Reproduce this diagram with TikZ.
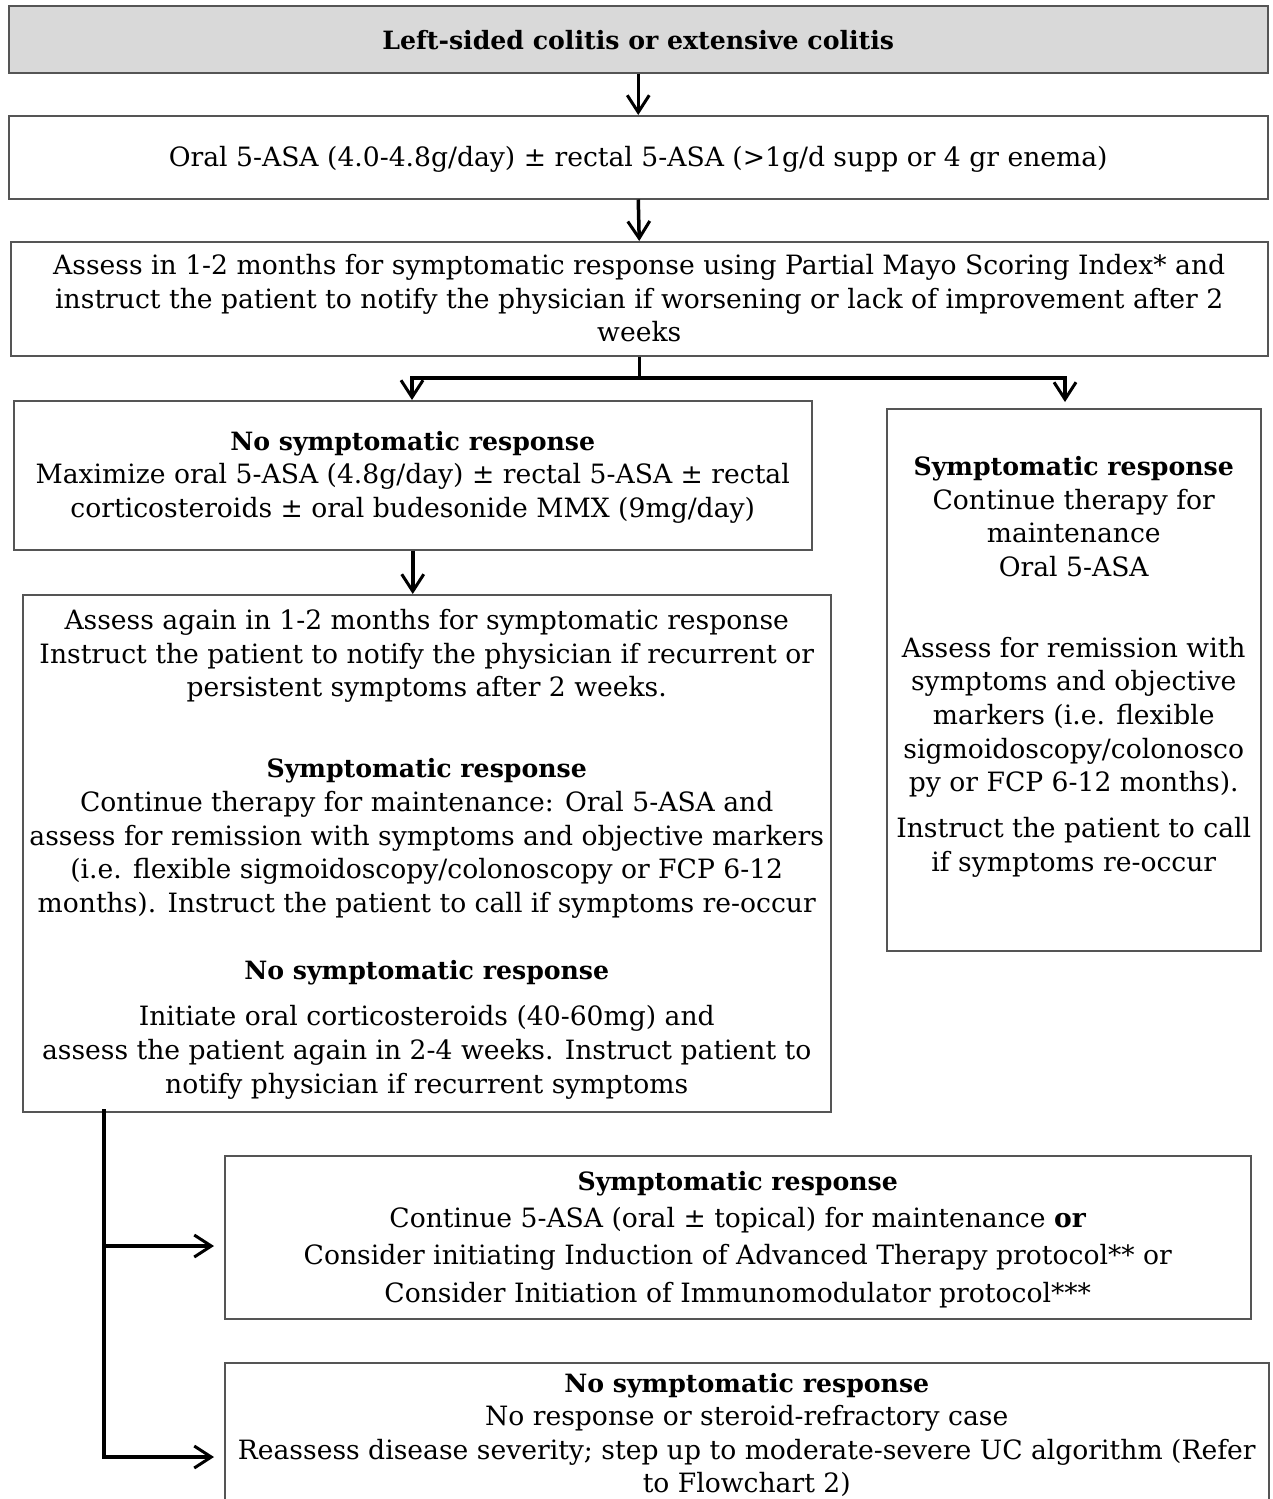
\documentclass[tikz,border=0pt]{standalone}
\usepackage{fontspec}
\setmainfont{DejaVu Serif}
\usetikzlibrary{arrows.meta}
\definecolor{boxgray}{HTML}{555555}
\definecolor{headfill}{HTML}{D9D9D9}
\newcommand{\hdg}[1]{{\fontsize{25.2}{33.7}\selectfont\bfseries #1}}
\begin{document}
\begin{tikzpicture}[x=1pt,y=-1pt,
  box/.style={draw=boxgray, line width=1.5pt, inner sep=0pt, anchor=north west},
  txt/.style={align=center, inner sep=0pt, font=\fontsize{26.6}{33.7}\selectfont},
  conn/.style={line width=3.5pt, black},
  arr/.style={line width=3.5pt, black, -{Straight Barb[length=17pt,width=22pt,line width=3pt]}}]
\useasboundingbox (0,0) rectangle (1272,1499);
\clip (0,0) rectangle (1272,1499);
\fill[white] (0,0) rectangle (1272,1499);

% boxes
\node[box, fill=headfill, minimum width=1259pt, minimum height=67pt] (b1) at (8,5) {};
\node[box, minimum width=1259pt, minimum height=83pt] (b2) at (8,115) {};
\node[box, minimum width=1257pt, minimum height=114pt] (b3) at (10,241) {};
\node[box, minimum width=798pt, minimum height=149pt] (b4) at (13,400) {};
\node[box, minimum width=374pt, minimum height=542pt] (b5) at (886,408) {};
\node[box, minimum width=808pt, minimum height=517pt] (b6) at (22,594) {};
\node[box, minimum width=1026pt, minimum height=163pt] (b7) at (224,1155) {};
\node[box, minimum width=1044pt, minimum height=170pt] (b8) at (224,1362) {};

% texts
\node[txt] (t1) at ([yshift=-1pt]b1.center) {\hdg{Left-sided colitis or extensive colitis}};
\node[txt] (t2) at ([yshift=-2pt]b2.center) {Oral 5-ASA (4.0-4.8g/day) ± rectal 5-ASA (>1g/d supp or 4 gr enema)};
\node[txt] (t3) at ([yshift=0.5pt]b3.center) {Assess in 1-2 months for symptomatic response using Partial Mayo Scoring Index* and\\
instruct the patient to notify the physician if worsening or lack of improvement after 2\\
weeks};
\node[txt] (t4) at ([yshift=-2pt]b4.center) {\hdg{No symptomatic response}\\
Maximize oral 5-ASA (4.8g/day) ± rectal 5-ASA ± rectal\\
corticosteroids ± oral budesonide MMX (9mg/day)};
\node[txt] (t6) at ([yshift=-1pt]b6.center) {Assess again in 1-2 months for symptomatic response\\
Instruct the patient to notify the physician if recurrent or\\
persistent symptoms after 2 weeks.\\[47pt]
\hdg{Symptomatic response}\\
Continue therapy for maintenance: Oral 5-ASA and\\
assess for remission with symptoms and objective markers\\
(i.e. flexible sigmoidoscopy/colonoscopy or FCP 6-12\\
months). Instruct the patient to call if symptoms re-occur\\[33pt]
\hdg{No symptomatic response}\\[13pt]
Initiate oral corticosteroids (40-60mg) and\\
assess the patient again in 2-4 weeks. Instruct patient to\\
notify physician if recurrent symptoms};
\node[txt] (t5) at ([yshift=13pt]b5.center) {\hdg{Symptomatic response}\\
Continue therapy for\\
maintenance\\
Oral 5-ASA\\[47pt]
Assess for remission with\\
symptoms and objective\\
markers (i.e. flexible\\
sigmoidoscopy/colonosco\\
py or FCP 6-12 months).\\[12pt]
Instruct the patient to call\\
if symptoms re-occur};
\node[txt, font=\fontsize{26.6}{37.3}\selectfont] (t7) at ([yshift=-2pt]b7.center) {\hdg{Symptomatic response}\\
Continue 5-ASA (oral ± topical) for maintenance \textbf{or}\\
Consider initiating Induction of Advanced Therapy protocol** or\\
Consider Initiation of Immunomodulator protocol***};
\node[txt, anchor=north, font=\fontsize{26.6}{33.4}\selectfont] (t8) at ([yshift=-11pt]b8.north) {\hdg{No symptomatic response}\\
No response or steroid-refractory case\\
Reassess disease severity; step up to moderate-severe UC algorithm (Refer\\
to Flowchart 2)};

% connectors
\draw[arr] (b1.south) -- (b2.north);
\draw[arr] (b2.south) -- (b3.north);
\coordinate (j) at ([yshift=-23pt]b3.south);
\coordinate (jl) at (412,378);
\coordinate (jr) at (1065,378);
\coordinate (jrEnd) at (1065,402);
\draw[conn] (b3.south) -- (j);
\draw[conn, line cap=rect] (jl) -- (jr);
\draw[arr] (jl) -- (jl |- b4.north);
\draw[arr] (jr) -- (jrEnd);
\draw[arr] (b4.south) -- (b4.south |- b6.north);
\coordinate (v0) at (104,1111);
\coordinate (v1) at (104,1246);
\coordinate (v2) at (104,1457);
\draw[conn, line cap=rect] (v0) -- (v2);
\draw[arr] (v1) -- ([xshift=-10pt]b7.west |- v1);
\draw[arr] (v2) -- ([xshift=-10pt]b8.west |- v2);
\end{tikzpicture}
\end{document}
